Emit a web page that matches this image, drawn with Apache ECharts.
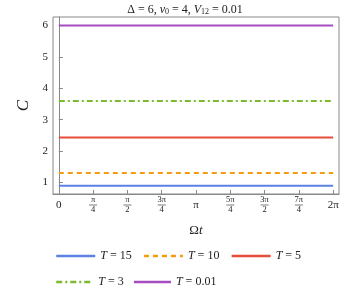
<!DOCTYPE html>
<html><head><meta charset="utf-8">
<script src="https://cdn.jsdelivr.net/npm/echarts@6/dist/echarts.min.js"></script>
<style>html,body{margin:0;padding:0;background:#fff}#c{width:360px;height:295px}</style>
</head><body><div id="c"></div>
<script>
// x positions in units of pi/4
const xTicks = [0, 1, 2, 3, 4, 5, 6, 7, 8];
const xTickLabels = ['0', 'π/4', 'π/2', '3π/4', 'π', '5π/4', '3π/2', '7π/4', '2π'];
const yTicks = [1, 2, 3, 4, 5, 6];
const seriesNames = ['T = 15', 'T = 10', 'T = 5', 'T = 3', 'T = 0.01'];
const seriesValues = [0.89, 1.30, 2.43, 3.59, 6.0];
const colors = ['#5b82e3', '#f39c12', '#e74c3c', '#7cba2f', '#a64dbf'];
const dashes = ['solid', [5, 4], 'solid', [6, 3, 2, 3], 'solid'];

const FONT = 'Liberation Serif';
function fracLabel(s) {
  const m = s.match(/^(\d*π)\/(\d)$/);
  if (!m) return '{w|' + s + '}';
  return '{n|' + m[1] + '}\n{bar| }\n{d|' + m[2] + '}';
}
const series = seriesNames.map((name, i) => ({
  name: name,
  type: 'line',
  symbol: 'none',
  data: xTicks.map(x => [x, seriesValues[i]]),
  lineStyle: { color: colors[i], width: 2, type: dashes[i] },
  itemStyle: { color: colors[i] },
  z: 3
}));
const legendText = {
  fontFamily: FONT, fontSize: 12, color: '#222',
  rich: { i: { fontFamily: FONT, fontStyle: 'italic', fontSize: 12, color: '#222' } }
};
const chart = echarts.init(document.getElementById('c'), null, { renderer: 'canvas' });
chart.setOption({
  animation: false,
  title: {
    text: '{s|Δ} = 6, {i|ν}{sub|0} = 4, {i|V}{sub|12} = 0.01',
    left: 180, textAlign: 'center', top: -2,
    textStyle: {
      fontFamily: FONT, fontSize: 12, fontWeight: 'normal', color: '#222',
      rich: {
        s: { fontFamily: FONT, fontSize: 12, color: '#222' },
        i: { fontFamily: FONT, fontSize: 12, fontStyle: 'italic', color: '#222' },
        sub: { fontFamily: FONT, fontSize: 8, color: '#222', padding: [5, 0, 0, 0] }
      }
    }
  },
  grid: { left: 53, right: 21, top: 17, bottom: 101, show: true, borderColor: '#888', borderWidth: 1 },
  xAxis: {
    type: 'value', min: -0.17, max: 8.17,
    name: '{r|Ω}{i|t}', nameLocation: 'middle', nameGap: 30,
    nameTextStyle: {
      fontFamily: FONT, fontSize: 13, color: '#222',
      rich: {
        r: { fontFamily: FONT, fontSize: 13, color: '#222' },
        i: { fontFamily: FONT, fontSize: 13, fontStyle: 'italic', color: '#222' }
      }
    },
    axisLine: { show: true, lineStyle: { color: '#888' } },
    axisTick: { show: true, inside: true, length: 4, customValues: xTicks, lineStyle: { color: '#888' } },
    splitLine: { show: false },
    axisLabel: {
      customValues: xTicks, margin: 2,
      formatter: (v) => fracLabel(xTickLabels[Math.round(v)]),
      rich: {
        w: { fontFamily: FONT, fontSize: 11, color: '#222', lineHeight: 16, padding: [3, 0, 0, 0] },
        n: { fontFamily: FONT, fontSize: 8.5, color: '#222', lineHeight: 8 },
        bar: { width: 8, height: 0.7, lineHeight: 2, fontSize: 1, backgroundColor: '#444' },
        d: { fontFamily: FONT, fontSize: 8.5, color: '#222', lineHeight: 8 }
      }
    }
  },
  yAxis: {
    type: 'value', min: 0.63, max: 6.27,
    name: 'C', nameLocation: 'middle', nameGap: 21, nameRotate: 90,
    nameTextStyle: { fontFamily: FONT, fontSize: 17, fontStyle: 'italic', color: '#222' },
    axisLine: { show: true, lineStyle: { color: '#888' } },
    axisTick: { show: true, inside: true, length: 4, customValues: yTicks, lineStyle: { color: '#888' } },
    splitLine: { show: false },
    axisLabel: {
      customValues: yTicks, margin: 5,
      fontFamily: FONT, fontSize: 11, color: '#222'
    }
  },
  legend: [
    {
      data: seriesNames.slice(0, 3), left: 50, top: 245, itemWidth: 39, itemHeight: 12, itemGap: 11,
      itemStyle: { opacity: 0 }, lineStyle: { width: 2.5 },
      formatter: n => n.replace('T', '{i|T}'), textStyle: legendText
    },
    {
      data: seriesNames.slice(3), left: 50, top: 271, itemWidth: 37, itemHeight: 12, itemGap: 9,
      itemStyle: { opacity: 0 }, lineStyle: { width: 2.5 },
      formatter: n => n.replace('T', '{i|T}'), textStyle: legendText
    }
  ],
  series: series
});
</script></body></html>
